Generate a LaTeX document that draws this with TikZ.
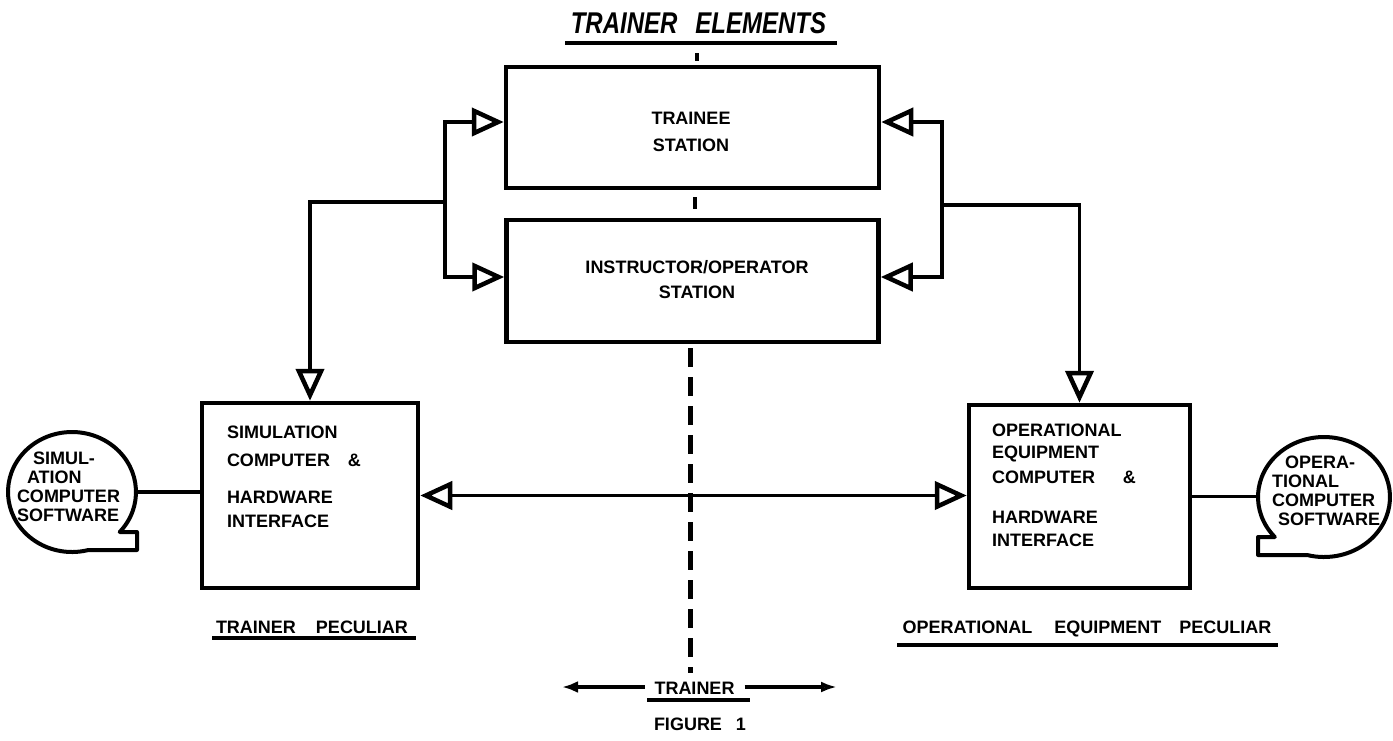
\documentclass[tikz,border=0pt]{standalone}
\usepackage{fontspec}
\setmainfont{Liberation Sans}
\usepackage{graphicx}
\usetikzlibrary{arrows.meta,shapes.geometric,calc}
\tikzset{
  box/.style={draw, line width=4.5pt, inner sep=0pt},
  conn/.style={line width=3.5pt},
  tri/.tip={Triangle[open,length=32pt,width=28pt,line width=4.5pt]},
  txt/.style={font=\fontsize{18}{24}\selectfont\bfseries, inner sep=0pt, outer sep=0pt},
  bub/.style={ellipse, draw=none, inner sep=0pt, outer sep=0pt},
  bubline/.style={line width=4pt, line join=round},
  uline/.style={line width=3.5pt},
  tickmark/.style={line width=4pt},
}
\begin{document}
\begin{tikzpicture}[x=1pt,y=1pt]
\useasboundingbox (0,0) rectangle (1393,-740);

% title
\node[txt, anchor=base, font=\fontsize{24}{28}\selectfont\bfseries\itshape] (title) at (698.5,-33)
  {\scalebox{1}[1.25]{TRAINER\hspace{18pt}ELEMENTS}};
\draw[uline] (565,-43) -- (837,-43);

% boxes
\node[box, minimum width=373pt, minimum height=121pt] (trainee) at (692.5,-127.5) {};
\node[box, minimum width=372pt, minimum height=122pt] (instr) at (692.5,-281) {};
\node[box, minimum width=216pt, minimum height=185pt] (sim) at (310,-495.5) {};
\node[box, minimum width=221pt, minimum height=183pt] (op) at (1079.5,-496.5) {};

% box texts
\node[txt, align=center, font=\fontsize{18}{27}\selectfont\bfseries] (traineetxt) at (691,-131.5) {TRAINEE\\STATION};
\node[txt, align=center, font=\fontsize{18}{25}\selectfont\bfseries] (instrtxt) at (697,-279.5) {INSTRUCTOR/OPERATOR\\STATION};
\node[txt, align=left, anchor=north west] (simtxt) at (227,-425.5)
  {SIMULATION\\[4pt]COMPUTER\hspace{18pt}\&\\[13pt]HARDWARE\\INTERFACE};
\node[txt, align=left, anchor=north west] (optxt) at (992,-423.5)
  {OPERATIONAL\\[-2pt]EQUIPMENT\\[1pt]COMPUTER\hspace{28pt}\&\\[16pt]HARDWARE\\[-1pt]INTERFACE};

% small marks
\draw[tickmark] ([xshift=4.5pt,yshift=4pt]trainee.north) -- ++(0,8);
\draw[tickmark] ([xshift=2.5pt,yshift=-7pt]trainee.south) -- ++(0,-12);

% software bubbles
\node[bub, minimum width=128pt, minimum height=120pt] (simsw) at (72,-492) {};
\draw[bubline] (119.7,-532) arc[start angle=-41.8, end angle=284.8, x radius=64, y radius=60]
  -- (137,-550) -- (137,-532) -- cycle;
\node[txt, align=left, anchor=north west, font=\fontsize{18}{19.3}\selectfont\bfseries] (simswtxt) at (17,-451.5)
  {\hspace{16pt}SIMUL-\\\hspace{10pt}ATION\\COMPUTER\\SOFTWARE};

\node[bub, minimum width=132pt, minimum height=120pt] (opsw) at (1324,-497) {};
\draw[bubline] (1258,-537) -- (1274.8,-537) arc[start angle=221.8, end angle=-104.8, x radius=66, y radius=60]
  -- (1258,-555) -- cycle;
\node[txt, align=left, anchor=north west, font=\fontsize{18}{19.3}\selectfont\bfseries] (opswtxt) at (1272,-455.5)
  {\hspace{13pt}OPERA-\\TIONAL\\COMPUTER\\\hspace{6pt}SOFTWARE};

% connectors
\coordinate (jl) at (445,-202);
\coordinate (jr) at (942,-205);
\draw[conn, -{tri}] (jl) -| (sim.north);
\draw[conn, -{tri}] (jl) |- ([yshift=5.5pt]trainee.west);
\draw[conn, -{tri}] (jl) |- ([yshift=4pt]instr.west);
\draw[conn, -{tri}] (jr) -| (op.north);
\draw[conn, -{tri}] (jr) |- ([yshift=5.5pt]trainee.east);
\draw[conn, -{tri}] (jr) |- ([yshift=4pt]instr.east);
\draw[conn, {tri}-{tri}] (sim.east) -- (sim.east -| op.west);
\draw[conn] (simsw.east) -- (simsw.east -| sim.west);
\draw[conn] (op.east) -- (op.east -| opsw.west);

% dashed trainer divider
\coordinate (dtop) at ([xshift=-2.5pt,yshift=-4pt]instr.south);
\coordinate (dbot) at (690,-673);
\draw[line width=5pt, dash pattern=on 19pt off 10pt] (dtop) -- (dbot);

% bottom labels
\node[txt, anchor=base] (tpec) at (312,-633.5) {TRAINER\hspace{20pt}PECULIAR};
\draw[uline] (212,-638) -- (416,-638);
\node[txt, anchor=base] (oepec) at (1087,-633.5) {OPERATIONAL\hspace{22pt}EQUIPMENT\hspace{18pt}PECULIAR};
\draw[uline] (897,-645) -- (1278,-645);

\node[txt, anchor=base, inner xsep=10pt] (trainer) at (694.5,-694.5) {TRAINER};
\draw[uline] (647,-700) -- (750,-700);
\coordinate (tl) at (562,-687);
\coordinate (tr) at (837,-687);
\draw[line width=4pt, -{Latex[length=16pt,width=12pt]}] (trainer.west |- tl) -- (tl);
\draw[line width=4pt, -{Latex[open,length=16pt,width=11pt]}] (trainer.east |- tr) -- (tr);

\node[txt, anchor=base] (fig) at (700,-730.5) {FIGURE\hspace{14pt}1};
\end{tikzpicture}
\end{document}
